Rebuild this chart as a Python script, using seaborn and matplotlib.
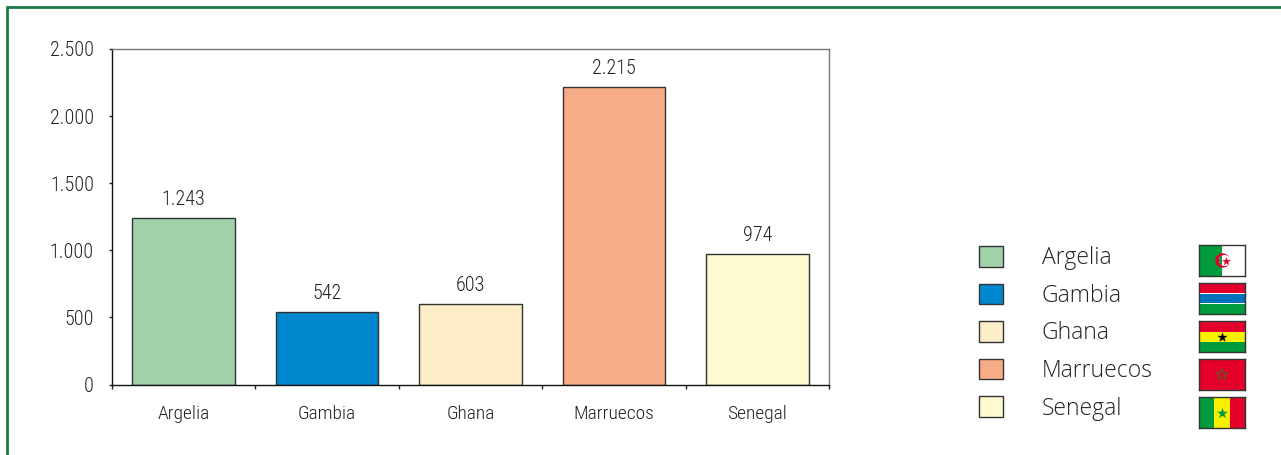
import pandas as pd
import seaborn as sns
import matplotlib.pyplot as plt
from matplotlib.patches import Patch, Rectangle, Circle

W, H = 1281, 455

# Datos
paises = ["Argelia", "Gambia", "Ghana", "Marruecos", "Senegal"]
valores = [1243, 542, 603, 2215, 974]
colores = ["#A0D1A8", "#0087CD", "#FDEDC8", "#F7AB87", "#FEFACF"]
ticks_y = [0, 500, 1000, 1500, 2000, 2500]
etiquetas_y = ["0", "500", "1.000", "1.500", "2.000", "2.500"]

sns.set_theme(style="white")
plt.rcParams["font.family"] = ["Roboto Condensed", "Liberation Sans", "DejaVu Sans"]
plt.rcParams["font.weight"] = "light"

df = pd.DataFrame({"pais": paises, "valor": valores})

fig = plt.figure(figsize=(W / 100, H / 100), dpi=100, facecolor="white")


def caja(x0, y0, x1, y1):
    # de pixeles (origen arriba) a fraccion de figura
    return [x0 / W, 1 - y1 / H, (x1 - x0) / W, (y1 - y0) / H]


ax = fig.add_axes(caja(112, 49, 829, 384.5))
sns.barplot(data=df, x="pais", y="valor", hue="pais", palette=colores, dodge=False,
            legend=False, width=0.715, saturation=1, edgecolor="#333333", linewidth=1, ax=ax)
ax.set_xlim(-0.5, 4.5)
ax.set_ylim(0, 2500)
ax.set_xlabel("")
ax.set_ylabel("")

# marcas en los limites de categoria, etiquetas centradas
ax.set_xticks([i - 0.5 for i in range(6)], [""] * 6)
ax.set_xticks(range(5), paises, minor=True)
ax.tick_params(axis="x", which="major", length=3, width=1, color="#222222", bottom=True, direction="out")
ax.tick_params(axis="x", which="minor", length=0, bottom=False, labelsize=14, pad=15, labelcolor="#222222")
ax.set_yticks(ticks_y, etiquetas_y)
ax.tick_params(axis="y", length=2, width=1, color="#222222", left=True, labelsize=14.5, pad=11, labelcolor="#222222")

for s in ["top", "right"]:
    ax.spines[s].set_color("#777777")
    ax.spines[s].set_linewidth(1)
for s in ["left", "bottom"]:
    ax.spines[s].set_color("#111111")
    ax.spines[s].set_linewidth(1)

for i, v in enumerate(valores):
    texto = f"{v:,}".replace(",", ".")
    ax.annotate(texto, (i, v), xytext=(0, 6.5), textcoords="offset points", ha="center", va="bottom",
                fontsize=14.5, color="#222222")

# leyenda
handles = [Patch(facecolor=c, edgecolor="#333333", linewidth=1) for c in colores]
fig.legend(handles, paises, loc="upper left", bbox_to_anchor=(979 / W, 1 - 246 / H), frameon=False,
           borderpad=0, borderaxespad=0, handlelength=1.03, handleheight=1.0, handletextpad=1.7,
           labelspacing=0.59, labelcolor="#222222",
           prop={"family": ["Open Sans", "DejaVu Sans"], "size": 16.5, "weight": "light"})


# banderas
def bandera(y0):
    a = fig.add_axes(caja(1199, y0, 1245, y0 + 31))
    a.set_xlim(0, 46)
    a.set_ylim(31, 0)
    a.set_xticks([])
    a.set_yticks([])
    for s in a.spines.values():
        s.set_color("#333333")
        s.set_linewidth(1)
    return a


def franjas(a, lista):
    for x, y, w, h, c in lista:
        a.add_patch(Rectangle((x, y), w, h, facecolor=c, edgecolor="none"))


verde, rojo, amarillo = "#009B3A", "#E4002B", "#F8F000"

a = bandera(245)
franjas(a, [(0, 0, 23, 31, verde), (23, 0, 23, 31, "white")])
a.add_patch(Circle((23.5, 15.5), 6.5, color=rojo))
# interior de la media luna: blanco con la parte verde recortada
interior = Circle((25.5, 15.5), 5.5, facecolor="white", edgecolor="none", zorder=2)
a.add_patch(interior)
resto = Rectangle((0, 0), 23, 31, facecolor=verde, edgecolor="none", zorder=2.5)
a.add_patch(resto)
resto.set_clip_path(interior)
a.scatter([26.7], [15.5], marker="*", s=45, color=rojo, linewidths=0, zorder=3)

a = bandera(283)
franjas(a, [(0, 0, 46, 10, rojo), (0, 10, 46, 1, "white"), (0, 11, 46, 9, "#0072BC"),
            (0, 20, 46, 1, "white"), (0, 21, 46, 10, verde)])

a = bandera(321)
franjas(a, [(0, 0, 46, 10.5, rojo), (0, 10.5, 46, 10, amarillo), (0, 20.5, 46, 10.5, verde)])
a.scatter([23], [15.5], marker="*", s=60, color="black", linewidths=0, zorder=3)

a = bandera(359)
franjas(a, [(0, 0, 46, 31, rojo)])
a.scatter([23], [15.5], marker="*", s=70, facecolor="none", edgecolor="#5A5A20", linewidths=0.8, zorder=3)

a = bandera(397)
franjas(a, [(0, 0, 15.3, 31, verde), (15.3, 0, 15.4, 31, amarillo), (30.7, 0, 15.3, 31, rojo)])
a.scatter([23], [15.5], marker="*", s=70, color=verde, linewidths=0, zorder=3)

# marco verde
marco = "#1E7B45"
fig.add_artist(plt.Line2D([6.5 / W, 6.5 / W, 1], [0, 1 - 7 / H, 1 - 7 / H], color=marco, lw=2,
                          solid_joinstyle="miter"))

fig.savefig("out.png", dpi=100)
